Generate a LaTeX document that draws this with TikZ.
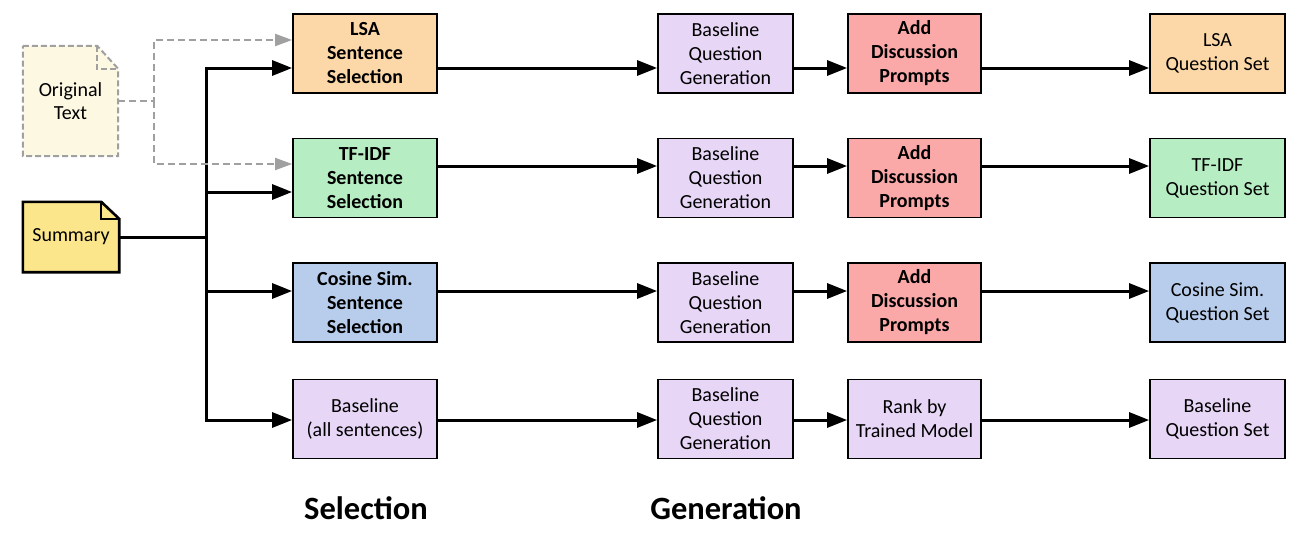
\documentclass[tikz,border=0pt]{standalone}
\usepackage{fontspec}
\setmainfont{Carlito}
\usetikzlibrary{arrows.meta,calc}
\definecolor{lsac}{HTML}{FCD8A8}
\definecolor{tfc}{HTML}{B7EDC2}
\definecolor{cosc}{HTML}{B8CDEC}
\definecolor{basec}{HTML}{E7D6F6}
\definecolor{addc}{HTML}{FBA9A8}
\definecolor{origc}{HTML}{FDF8E2}
\definecolor{summc}{HTML}{FBE68C}
\definecolor{grayc}{HTML}{A0A0A0}
\begin{document}
\begin{tikzpicture}[x=1pt,y=-1pt,
  box/.style={draw=black,line width=1.8pt,align=center,inner sep=0pt,
    minimum height=79pt,font=\fontsize{20}{24}\selectfont},
  bbox/.style={box,font=\fontsize{20}{24}\selectfont\bfseries},
  selw/.style={minimum width=144pt},
  genw/.style={minimum width=135pt},
  prw/.style={minimum width=133pt},
  outw/.style={minimum width=135pt},
  flow/.style={line width=3pt,line join=miter,-{Triangle[length=20pt,width=15pt]}},
  plain/.style={line width=3pt,line join=miter},
  gflow/.style={draw=grayc,line width=2pt,dash pattern=on 7pt off 4pt,
    -{Triangle[length=17pt,width=12pt,fill=grayc,sep=0pt]}},
  gplain/.style={draw=grayc,line width=2pt,dash pattern=on 7pt off 4pt},
  doctext/.style={inner sep=0pt,align=center,font=\fontsize{20}{23}\selectfont},
  title/.style={font=\fontsize{32.5}{36}\selectfont\bfseries}
]
\useasboundingbox (0,0) rectangle (1308,535);

% documents
\node[doctext,minimum width=95pt,minimum height=110pt] (orig) at (70.5,101) {};
\fill[origc] (orig.north west) -- ($(orig.north east)+(-21,0)$) -- ($(orig.north east)+(0,23)$) -- (orig.south east) -- (orig.south west) -- cycle;
\draw[gplain,dash pattern=on 6pt off 3pt] (orig.north west) -- ($(orig.north east)+(-21,0)$) -- ($(orig.north east)+(0,23)$) -- (orig.south east) -- (orig.south west) -- cycle;
\draw[gplain,dash pattern=on 6pt off 3pt] ($(orig.north east)+(-21,0)$) -- ($(orig.north east)+(-21,23)$) -- ($(orig.north east)+(0,23)$);
\node[doctext] (origtxt) at (orig) {Original\\Text};

\node[doctext,minimum width=96pt,minimum height=70pt] (summ) at (71,237) {};
\filldraw[fill=summc,draw=black,line width=2.6pt,line join=miter] (summ.north west) -- ($(summ.north east)+(-18,0)$) -- ($(summ.north east)+(0,17)$) -- (summ.south east) -- (summ.south west) -- cycle;
\draw[line width=2.2pt,line join=miter] ($(summ.north east)+(-18,0)$) -- ($(summ.north east)+(-18,17)$) -- ($(summ.north east)+(0,17)$);
\node[doctext] (summtxt) at (summ) {Summary};

% selection column
\node[bbox,selw,fill=lsac] (sel1) at (365,53.5) {LSA\\Sentence\\Selection};
\node[bbox,selw,fill=tfc] (sel2) at (365,178) {TF-IDF\\Sentence\\Selection};
\node[bbox,selw,fill=cosc] (sel3) at (365,302.5) {Cosine Sim.\\Sentence\\Selection};
\node[box,selw,fill=basec] (sel4) at (365,419) {Baseline\\(all sentences)};

% generation column
\node[box,genw,fill=basec] (gen1) at (725.5,53.5) {Baseline\\Question\\Generation};
\node[box,genw,fill=basec] (gen2) at (725.5,178) {Baseline\\Question\\Generation};
\node[box,genw,fill=basec] (gen3) at (725.5,302.5) {Baseline\\Question\\Generation};
\node[box,genw,fill=basec] (gen4) at (725.5,419) {Baseline\\Question\\Generation};

% prompt / rank column
\node[bbox,prw,fill=addc] (pr1) at (914.5,53.5) {Add\\Discussion\\Prompts};
\node[bbox,prw,fill=addc] (pr2) at (914.5,178) {Add\\Discussion\\Prompts};
\node[bbox,prw,fill=addc] (pr3) at (914.5,302.5) {Add\\Discussion\\Prompts};
\node[box,prw,fill=basec] (pr4) at (914.5,419) {Rank by\\Trained Model};

% output column
\node[box,outw,fill=lsac] (out1) at (1217.5,53.5) {LSA\\Question Set};
\node[box,outw,fill=tfc] (out2) at (1217.5,178) {TF-IDF\\Question Set};
\node[box,outw,fill=cosc] (out3) at (1217.5,302.5) {Cosine Sim.\\Question Set};
\node[box,outw,fill=basec] (out4) at (1217.5,419) {Baseline\\Question Set};

% titles
\node[title] (tsel) at (366,508) {Selection};
\node[title] (tgen) at (726,508) {Generation};

% trunk
\coordinate (j) at (206,237);
\coordinate (t1) at (206,68);
\coordinate (t2) at (206,192);
\coordinate (t3) at (206,291);
\coordinate (t4) at (206,420);
\draw[plain] (summ.east) -- (j);
\draw[flow] (j) -- (t1) -- (t1 -| sel1.west);
\draw[flow] (j) -- (t4) -- (t4 -| sel4.west);
\draw[flow] (t2) -- (t2 -| sel2.west);
\draw[flow] (t3) -- (t3 -| sel3.west);

% gray dashed from original text
\coordinate (g0) at (154,101);
\coordinate (g1) at (154,40);
\coordinate (g2) at (154,164);
\draw[gflow] (orig.east) -- (g0) -- (g1) -- (g1 -| sel1.west);
\draw[gflow] (g0) -- (g2) -- (g2 -| sel2.west);

% row lines
\coordinate (r1) at (0,68);
\coordinate (r2) at (0,166);
\coordinate (r3) at (0,291);
\coordinate (r4) at (0,420);
\foreach \i in {1,2,3,4}{
  \draw[flow] (sel\i.east |- r\i) -- (gen\i.west |- r\i);
  \draw[flow] (gen\i.east |- r\i) -- (pr\i.west |- r\i);
  \draw[flow] (pr\i.east |- r\i) -- (out\i.west |- r\i);
}
\end{tikzpicture}
\end{document}
